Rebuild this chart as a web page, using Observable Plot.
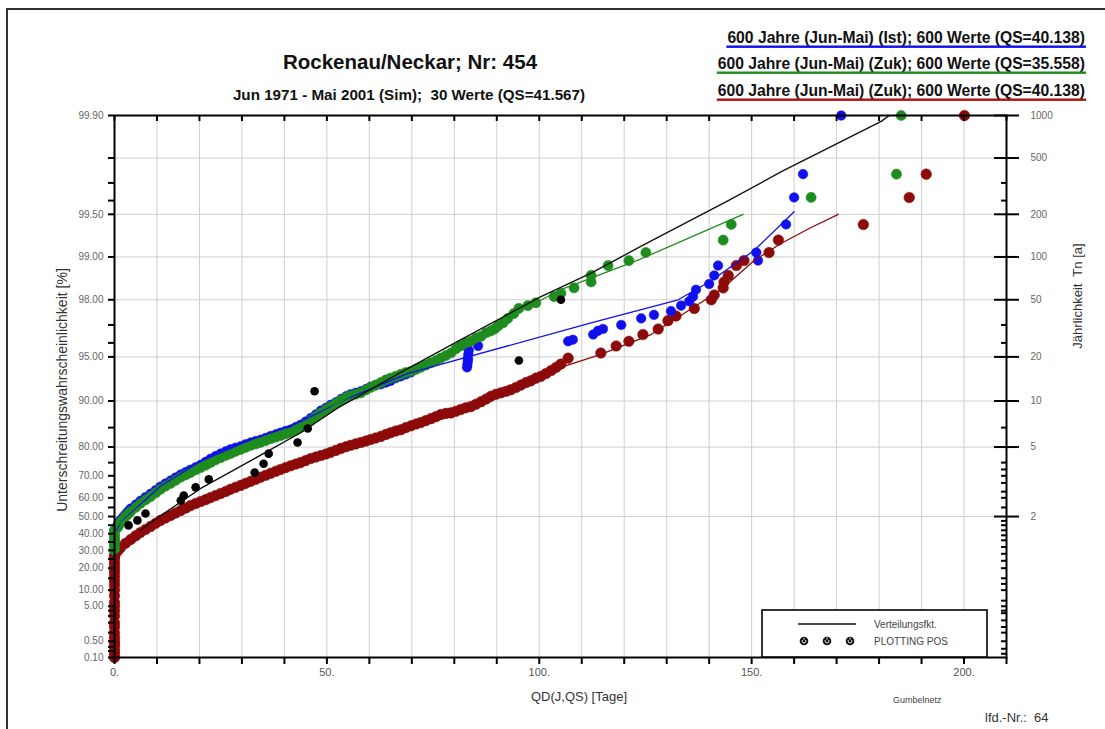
<!DOCTYPE html>
<html><head><meta charset="utf-8">
<script src="https://cdn.jsdelivr.net/npm/d3@7"></script>
<script src="https://cdn.jsdelivr.net/npm/@observablehq/plot@0.6"></script>
<style>
body{margin:0;background:#fff;font-family:"Liberation Sans",Arial,sans-serif;}
#wrap{position:relative;width:1105px;height:729px;overflow:hidden;background:#fff;}
#chart{position:absolute;left:0;top:0;}
#over{position:absolute;left:0;top:0;pointer-events:none;}
#over text{white-space:pre;}
</style></head><body>
<div id="wrap"><div id="chart"></div><svg id="over" width="1105" height="729"></svg></div>
<script>
// ---------- data (days QD, probability %) ----------
const redDays = [0,0,0,0,0,0,0,0,0,0,0,0,0,0,0,0,0,0,0,0,0,0,0,0,0,
 0.2,1.4,3.8,6.1,8.5,10.8,13.2,15.6,17.9,20.3,22.6,25.0,27.3,29.7,32.1,34.4,36.8,39.1,41.5,43.8,46.2,48.6,50.9,53.3,55.6,58.0,60.3,62.7,65.0,67.4,69.8,72.1,74.5,76.8,79.2,81.5,83.9,86.3,88.6,91.0,93.3,95.7,98.0,100.4,102.8,105.1,106.8,
 114.5,118.1,121.1,124.4,128.0,130.3,132.2,136.5,140.5,141.2,143.3,143.5,144.5,146.4,148.2,154.1,156.3,176.3,187.1,191.1,200.1];
const redProb = [0.1,0.15,0.2,0.3,0.4,0.5,0.7,1,1.5,2,3,4,5,6,8,10,12,14,16,18,20,22,24,26,27,
 28,31.6,36.5,40.7,44.3,47.8,50.6,53.4,56.0,58.1,60.1,62.1,64.1,65.9,67.7,69.4,71.0,72.5,73.9,75.0,76.4,77.4,78.4,79.6,80.5,81.3,82.1,82.9,83.8,84.5,85.4,86.1,86.9,87.7,88.0,88.6,89.1,89.9,90.7,91.2,91.6,92.2,92.7,93.2,93.8,94.4,94.9,
 95.3,95.8,96.1,96.5,96.8,97.2,97.4,97.7,98.0,98.15,98.35,98.5,98.65,98.85,98.94,99.07,99.24,99.41,99.62,99.74,99.9];
const redDays2 = [0.8,2.6,5.0,7.3,9.7,12.0,14.4,16.8,19.1,21.5,23.8,26.2,28.5,30.9,33.3,35.6,38.0,40.3,42.7,45.0,47.4,49.8,52.1,54.5,56.8,59.2,61.5,63.9,66.2,68.6,71.0,73.3,75.7,78.0,80.4,82.7,85.1,87.5,89.8,92.2,94.5,96.9,99.2,101.6,104.0];
const redProb2 = [30,34.2,38.7,42.5,46.1,49.2,52.0,54.7,57.1,59.1,61.1,63.1,65.0,66.8,68.6,70.2,71.8,73.2,74.5,75.7,76.9,77.9,79.0,80.1,80.9,81.7,82.5,83.4,84.2,85.0,85.8,86.5,87.3,87.9,88.3,88.9,89.5,90.3,91.0,91.4,91.9,92.5,93.0,93.5,94.1];

const blueDays = [0,0,0,0,0,
 0.7,1.4,2.6,3.8,6.1,8.5,10.8,13.2,15.6,17.9,20.3,22.6,25.0,27.3,29.7,32.1,34.4,36.8,39.1,41.5,43.8,46.2,48.6,50.9,53.3,55.6,58.0,60.3,62.7,65.0,67.4,69.8,83.0,83.1,83.2,83.2,83.3,83.4,85.6,
 106.8,107.9,112.7,113.8,115.0,119.3,124.0,127.0,131.0,133.4,135.3,136.2,136.9,140.0,141.2,142.1,151.1,151.5,158.1,160.0,162.1,171.1];
const blueProb = [30,33,36,39,42,
 45.0,47.9,51.2,54.4,58.5,62.0,65.3,68.0,70.5,72.4,74.2,76.3,78.0,79.3,80.2,81.3,82.0,83.0,83.8,84.5,85.6,87.0,88.4,89.4,90.3,91.0,91.4,92.0,92.3,92.7,93.2,93.6,94.1,94.4,94.7,94.9,95.2,95.5,95.8,
 96.1,96.2,96.5,96.7,96.8,97.0,97.3,97.45,97.6,97.8,97.95,98.1,98.3,98.45,98.65,98.85,99.07,98.94,99.41,99.62,99.74,99.9];
const blueDays2 = [1.0,2.0,3.2,5.0,7.3,9.7,12.0,14.4,16.8,19.1,21.5,23.8,26.2,28.5,30.9,33.3,35.6,38.0,40.3,42.7,45.0,47.4,49.8,52.1,54.5,56.8,59.2,61.5,63.9,66.2,68.6];
const blueProb2 = [46.6,49.6,52.9,56.5,60.3,63.7,66.7,69.3,71.5,73.3,75.3,77.2,78.7,79.8,80.8,81.7,82.5,83.4,84.2,85.1,86.3,87.7,88.9,89.8,90.7,91.2,91.7,92.2,92.5,93.0,93.4];

const greenDays = [0,0,0,0,0,0,0,
 0.7,1.4,2.6,3.8,6.1,8.5,10.8,13.2,15.6,17.9,20.3,22.6,25.0,27.3,29.7,32.1,34.4,36.8,39.1,41.5,43.8,46.2,48.6,50.9,53.3,55.6,58.0,60.3,62.7,65.0,67.4,69.8,72.1,74.5,76.8,79.2,81.5,83.9,86.3,88.6,90.3,92.6,95.2,97.3,99.2,103.5,105.1,108.2,112.2,112.2,116.2,121.1,125.1,
 143.3,145.2,164.0,184.1,185.2];
const greenProb = [30,32,34,36,38,40,42,
 43.6,46.6,50.0,52.8,57.1,60.6,64.1,66.8,69.4,71.3,73.2,75.0,76.7,78.0,79.3,80.5,81.3,82.3,83.1,83.8,85.0,86.5,88.0,89.1,90.1,90.8,91.2,91.9,92.5,93.0,93.4,93.7,94.1,94.5,94.9,95.3,95.8,96.1,96.4,96.7,96.95,97.3,97.7,97.8,97.9,98.1,98.2,98.35,98.5,98.65,98.85,98.94,99.07,
 99.24,99.41,99.62,99.74,99.9];
const greenDays2 = [1.0,2.0,3.2,5.0,7.3,9.7,12.0,14.4,16.8,19.1,21.5,23.8,26.2,28.5,30.9,33.3,35.6,38.0,40.3,42.7,45.0,47.4,49.8,52.1,54.5,56.8,59.2,61.5,63.9,66.2,68.6,71.0,73.3,75.7,78.0,80.4,82.7,85.1,87.5,89.5,91.5,94.0];
const greenProb2 = [45,48.3,51.4,55,58.9,62.4,65.5,68.1,70.4,72.3,74.1,75.9,77.4,78.7,79.9,80.9,81.8,82.7,83.5,84.4,85.8,87.3,88.6,89.6,90.5,91.0,91.6,92.2,92.8,93.2,93.6,93.9,94.3,94.7,95.1,95.6,96.0,96.3,96.6,96.8,97.1,97.5];

const simDays = [3.3,5.4,7.3,15.6,16.3,19.1,22.2,33.0,35.1,36.3,43.1,45.5,47.1,95.2,105.1];
const simProb = [44.9,47.8,51.7,58.6,61.1,65.0,68.5,71.3,74.6,78.0,81.3,84.8,91.4,94.7,98.0];

// fitted distribution functions
const fitSimDays = [6.1,8.5,20.3,32.1,43.8,52.6,67.4,80.8,100.4,112.2,124.0,144.5,157.0,180.5,182.4];
const fitSimProb = [41.9,46.6,64.5,75.7,83.8,88.9,93.6,96.1,98.1,98.7,99.16,99.60,99.75,99.89,99.9];
const fitBlueDays = [0.5,1.4,10.8,20.3,32,43.8,55.6,69.1,112.2,132.7,140,150.6,160];
const fitBlueProb = [42,46.6,65.5,75.5,82,86.3,90.6,93.5,97.1,98.0,98.5,99.1,99.52];
const fitRedDays = [0.2,8.5,20.3,32,43.8,55.6,67.4,79.2,91,105.1,114.5,126.3,142.8,150.6,157,164,170.4];
const fitRedProb = [27,42.5,56.5,66.5,74,79.8,84,87.4,90.8,94.1,95.2,96.5,98.3,98.94,99.2,99.38,99.5];
const fitGreenDays = [0.7,8.5,20.3,32,43.8,55.6,67.4,79.2,91,105.1,124,148];
const fitGreenProb = [44.9,60.1,73.6,81,85.4,90.8,93.4,95.3,97.2,98.3,98.97,99.5];

// ticks
const xTicks = [0,10,20,30,40,50,60,70,80,90,100,110,120,130,140,150,160,170,180,190,200,210];
const leftLabels = [0.1,0.5,5,10,20,30,40,50,60,70,80,90,95,98,99,99.5,99.9];
const leftMinor = [0.2,0.3,1,2,3,4,15,25,35,45,55,65,75,85,96,97,99.6,99.7,99.8];
const rightLabels = [2,5,10,20,50,100,200,500,1000];
const rightMinorProb = [0.15,0.25,0.5,1,1.5,2.3,3.5,4,5,6.5,10,12.5,15,20,24,28,32,36,39,42,45,47.5,55,60,63,67,70,72.5,75,85,96,97,99.6,99.7];

// ---------- helpers ----------
const gum = p => -Math.log(-Math.log(p / 100));
const invP = u => 100 * Math.exp(-Math.exp(-u));
const T2u = T => gum(100 - 100 / T);
const zip = (xs, ps) => xs.map((x, i) => ({x, u: gum(ps[i])}));

const red = zip(redDays.concat(redDays2), redProb.concat(redProb2));
const blue = zip(blueDays.concat(blueDays2), blueProb.concat(blueProb2));
const green = zip(greenDays.concat(greenDays2), greenProb.concat(greenProb2));
const sim = zip(simDays, simProb);
const fSim = zip(fitSimDays, fitSimProb), fBlue = zip(fitBlueDays, fitBlueProb), fRed = zip(fitRedDays, fitRedProb), fGreen = zip(fitGreenDays, fitGreenProb);

const BLUE = "#1010ee", GREEN = "#1e8c1e", RED = "#8c0a0a";

const chart = Plot.plot({
  width: 1105, height: 729,
  marginLeft: 114, marginRight: 99, marginTop: 115, marginBottom: 72,
  x: {domain: [0, 210]},
  y: {domain: [gum(0.1), gum(99.9)]},
  style: {fontFamily: "'Liberation Sans', Arial, sans-serif", fontSize: "10px", background: "transparent"},
  marks: [
    Plot.ruleX(xTicks, {stroke: "#cfcfcf", strokeWidth: 1}),
    Plot.ruleY(rightLabels.map(T2u), {stroke: "#cfcfcf", strokeWidth: 1}),
    Plot.dot(red, {x: "x", y: "u", r: 5.3, fill: RED, stroke: RED, strokeWidth: 0.5}),
    Plot.dot(blue, {x: "x", y: "u", r: 4.8, fill: BLUE, stroke: BLUE, strokeWidth: 0.5}),
    Plot.dot(green, {x: "x", y: "u", r: 5.1, fill: GREEN, stroke: GREEN, strokeWidth: 0.5}),
    Plot.dot(sim, {x: "x", y: "u", r: 4.3, fill: "#000"}),
    Plot.line(fRed, {x: "x", y: "u", stroke: RED, strokeWidth: 1.3}),
    Plot.line(fBlue, {x: "x", y: "u", stroke: BLUE, strokeWidth: 1.3}),
    Plot.line(fGreen, {x: "x", y: "u", stroke: GREEN, strokeWidth: 1.3}),
    Plot.line(fSim, {x: "x", y: "u", stroke: "#111", strokeWidth: 1.4}),
    Plot.frame({stroke: "#000", strokeWidth: 2}),
    Plot.axisX({anchor: "bottom", ticks: xTicks, tickSize: 7, tickPadding: 4, stroke: "#000", strokeWidth: 2, fill: "#555", fontSize: 11,
      tickFormat: d => d % 50 === 0 ? d + "." : "", label: null}),
    Plot.axisX({anchor: "top", ticks: xTicks, tickSize: 5, dy: 5, stroke: "#000", strokeWidth: 2, tickFormat: () => "", label: null}),
    Plot.axisY({anchor: "left", ticks: leftLabels.map(gum), tickSize: 6, tickPadding: 5, stroke: "#000", strokeWidth: 2, fill: "#666", fontSize: 10,
      tickFormat: u => invP(u).toFixed(2), label: null}),
    Plot.axisY({anchor: "left", ticks: leftMinor.map(gum), tickSize: 6, stroke: "#000", strokeWidth: 2, tickFormat: () => "", label: null}),
    Plot.axisY({anchor: "right", ticks: rightLabels.map(T2u), tickSize: 12, tickPadding: 12, stroke: "#000", strokeWidth: 2, fill: "#666", fontSize: 10,
      tickFormat: u => String(Math.round(100 / (100 - invP(u)))), label: null}),
    Plot.axisY({anchor: "right", ticks: rightLabels.map(T2u), tickSize: 13, dx: -13, stroke: "#000", strokeWidth: 2, tickFormat: () => "", label: null}),
    Plot.axisY({anchor: "right", ticks: rightMinorProb.map(gum), tickSize: 6, dx: -6, stroke: "#000", strokeWidth: 2, tickFormat: () => "", label: null})
  ]
});
document.getElementById("chart").appendChild(chart);

// ---------- titles, legends (overlay) ----------
const ov = d3.select("#over");
ov.append("path").attr("d", "M7,729 V9 H1105").attr("fill", "none").attr("stroke", "#333").attr("stroke-width", 2);
const txt = (s, x, y, size, opts = {}) => ov.append("text").text(s).attr("x", x).attr("y", y)
  .attr("font-size", size).attr("font-family", "'Liberation Sans', Arial, sans-serif")
  .attr("font-weight", opts.bold ? "bold" : "normal").attr("fill", opts.fill || "#111")
  .attr("text-anchor", opts.anchor || "start").attr("transform", opts.rot ? `rotate(-90 ${x} ${y})` : null);

txt("Rockenau/Neckar; Nr: 454", 410, 69, 20.5, {bold: true, anchor: "middle"});
txt("Jun 1971 - Mai 2001 (Sim);  30 Werte (QS=41.567)", 409, 100, 15.2, {bold: true, anchor: "middle"});

const legendTexts = ["600 Jahre (Jun-Mai) (Ist); 600 Werte (QS=40.138)",
                     "600 Jahre (Jun-Mai) (Zuk); 600 Werte (QS=35.558)",
                     "600 Jahre (Jun-Mai) (Zuk); 600 Werte (QS=40.138)"];
const legendColors = [BLUE, GREEN, "#b01010"];
const legendY = [43, 69, 96];
legendTexts.forEach((s, i) => {
  const t = txt(s, 1085, legendY[i], 15.7, {bold: true, anchor: "end"});
  const w = t.node().getComputedTextLength();
  ov.append("rect").attr("x", 1085 - w - 1).attr("y", legendY[i] + 2.5).attr("width", w + 2).attr("height", 2.4).attr("fill", legendColors[i]);
});

txt("Unterschreitungswahrscheinlichkeit [%]", 67, 390, 14, {rot: true, anchor: "middle", fill: "#333"});
txt("Jährlichkeit  Tn [a]", 1082, 296, 13, {rot: true, anchor: "middle", fill: "#333"});
txt("QD(J,QS) [Tage]", 579, 701, 13, {anchor: "middle", fill: "#333"});
txt("Gumbelnetz", 893, 703, 9, {fill: "#444"});
txt("lfd.-Nr.:  64", 985, 722, 13, {fill: "#333"});

// legend box
ov.append("rect").attr("x", 762).attr("y", 610).attr("width", 225).attr("height", 47).attr("fill", "#fff").attr("stroke", "#000").attr("stroke-width", 1.6);
ov.append("line").attr("x1", 798).attr("x2", 856).attr("y1", 624).attr("y2", 624).attr("stroke", "#111").attr("stroke-width", 1.5);
txt("Verteilungsfkt.", 874, 628, 10, {fill: "#444"});
txt("PLOTTING POS", 874, 645, 10, {fill: "#444"});
[804, 827, 850].forEach(cx => {
  ov.append("circle").attr("cx", cx).attr("cy", 641).attr("r", 4.3).attr("fill", "#111");
  ov.append("path").attr("d", `M${cx-1.8},${640} v1.2 a1.8,1.8 0 0 0 3.6,0 v-1.2 M${cx},${637.5} v2.3`).attr("fill", "none").attr("stroke", "#fff").attr("stroke-width", 0.9);
});
</script>
</body></html>
